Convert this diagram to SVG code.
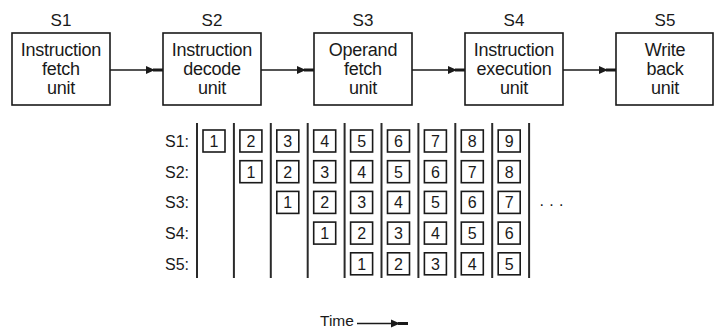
<svg xmlns="http://www.w3.org/2000/svg" width="715" height="331" viewBox="0 0 715 331">
  <style>
    text { font-family: "Liberation Sans", Arial, sans-serif; fill: #1a1a1a; }
    .unit { fill: #fff; stroke: #1a1a1a; stroke-width: 1.6; }
    .lbl { font-size: 18px; letter-spacing: -0.25px; text-anchor: middle; }
    .stage { font-size: 17px; text-anchor: middle; }
    .wire { stroke: #1a1a1a; stroke-width: 1.6; fill: none; marker-end: url(#arrow); }
    .tick { stroke: #2a2a2a; stroke-width: 2; }
    .cell { fill: #fff; stroke: #1a1a1a; stroke-width: 1.6; }
    .num { font-size: 16px; text-anchor: middle; }
    .row { font-size: 16px; }
  </style>
  <defs>
    <!-- filled head followed by a short heavy bar up to the target -->
    <marker id="arrow" viewBox="0 0 17 10" refX="17" refY="5" markerWidth="17" markerHeight="10" markerUnits="userSpaceOnUse" orient="auto">
      <path d="M0,1 L9,5 L0,9 Z M7,3.5 H17 V6.5 H7 Z" fill="#1a1a1a"/>
    </marker>
    <rect id="c" width="22" height="22" class="cell"/>
  </defs>
  <rect width="715" height="331" fill="#fff"/>

  <!-- pipeline stages -->
  <g id="s1">
    <text class="stage" x="61" y="26">S1</text>
    <rect class="unit" x="12" y="33" width="98" height="72"/>
    <text class="lbl" x="61" y="56">Instruction</text>
    <text class="lbl" x="61" y="75">fetch</text>
    <text class="lbl" x="61" y="94">unit</text>
  </g>
  <g id="s2">
    <text class="stage" x="212" y="26">S2</text>
    <rect class="unit" x="163" y="33" width="98" height="72"/>
    <text class="lbl" x="212" y="56">Instruction</text>
    <text class="lbl" x="212" y="75">decode</text>
    <text class="lbl" x="212" y="94">unit</text>
  </g>
  <g id="s3">
    <text class="stage" x="363" y="26">S3</text>
    <rect class="unit" x="314" y="33" width="98" height="72"/>
    <text class="lbl" x="363" y="56">Operand</text>
    <text class="lbl" x="363" y="75">fetch</text>
    <text class="lbl" x="363" y="94">unit</text>
  </g>
  <g id="s4">
    <text class="stage" x="514" y="26">S4</text>
    <rect class="unit" x="465" y="33" width="98" height="72"/>
    <text class="lbl" x="514" y="56">Instruction</text>
    <text class="lbl" x="514" y="75">execution</text>
    <text class="lbl" x="514" y="94">unit</text>
  </g>
  <g id="s5">
    <text class="stage" x="665" y="26">S5</text>
    <rect class="unit" x="616" y="33" width="97" height="72"/>
    <text class="lbl" x="665" y="56">Write</text>
    <text class="lbl" x="665" y="75">back</text>
    <text class="lbl" x="665" y="94">unit</text>
  </g>

  <g id="connectors">
    <line class="wire" x1="110" y1="70" x2="163" y2="70"/>
    <line class="wire" x1="261" y1="70" x2="314" y2="70"/>
    <line class="wire" x1="412" y1="70" x2="465" y2="70"/>
    <line class="wire" x1="563" y1="70" x2="616" y2="70"/>
  </g>

  <!-- space-time table -->
  <g id="timing">
    <text class="row" x="165" y="146.8">S1:</text>
    <text class="row" x="165" y="177.5">S2:</text>
    <text class="row" x="165" y="208.2">S3:</text>
    <text class="row" x="165" y="238.9">S4:</text>
    <text class="row" x="165" y="269.6">S5:</text>

    <g>
      <line class="tick" x1="197" y1="123" x2="197" y2="278"/>
      <line class="tick" x1="233.9" y1="123" x2="233.9" y2="278"/>
      <line class="tick" x1="270.8" y1="123" x2="270.8" y2="278"/>
      <line class="tick" x1="307.7" y1="123" x2="307.7" y2="278"/>
      <line class="tick" x1="344.6" y1="123" x2="344.6" y2="278"/>
      <line class="tick" x1="381.5" y1="123" x2="381.5" y2="278"/>
      <line class="tick" x1="418.4" y1="123" x2="418.4" y2="278"/>
      <line class="tick" x1="455.3" y1="123" x2="455.3" y2="278"/>
      <line class="tick" x1="492.2" y1="123" x2="492.2" y2="278"/>
      <line class="tick" x1="529.1" y1="123" x2="529.1" y2="278"/>
    </g>

    <!-- column 1 -->
    <g transform="translate(203,130)">
      <use href="#c"/><text class="num" x="11" y="16.8">1</text>
    </g>
    <!-- column 2 -->
    <g transform="translate(239.9,130)">
      <use href="#c"/><text class="num" x="11" y="16.8">2</text>
      <use href="#c" y="30.7"/><text class="num" x="11" y="47.5">1</text>
    </g>
    <!-- column 3 -->
    <g transform="translate(276.8,130)">
      <use href="#c"/><text class="num" x="11" y="16.8">3</text>
      <use href="#c" y="30.7"/><text class="num" x="11" y="47.5">2</text>
      <use href="#c" y="61.4"/><text class="num" x="11" y="78.2">1</text>
    </g>
    <!-- column 4 -->
    <g transform="translate(313.7,130)">
      <use href="#c"/><text class="num" x="11" y="16.8">4</text>
      <use href="#c" y="30.7"/><text class="num" x="11" y="47.5">3</text>
      <use href="#c" y="61.4"/><text class="num" x="11" y="78.2">2</text>
      <use href="#c" y="92.1"/><text class="num" x="11" y="108.9">1</text>
    </g>
    <!-- column 5 -->
    <g transform="translate(350.6,130)">
      <use href="#c"/><text class="num" x="11" y="16.8">5</text>
      <use href="#c" y="30.7"/><text class="num" x="11" y="47.5">4</text>
      <use href="#c" y="61.4"/><text class="num" x="11" y="78.2">3</text>
      <use href="#c" y="92.1"/><text class="num" x="11" y="108.9">2</text>
      <use href="#c" y="122.8"/><text class="num" x="11" y="139.6">1</text>
    </g>
    <!-- column 6 -->
    <g transform="translate(387.5,130)">
      <use href="#c"/><text class="num" x="11" y="16.8">6</text>
      <use href="#c" y="30.7"/><text class="num" x="11" y="47.5">5</text>
      <use href="#c" y="61.4"/><text class="num" x="11" y="78.2">4</text>
      <use href="#c" y="92.1"/><text class="num" x="11" y="108.9">3</text>
      <use href="#c" y="122.8"/><text class="num" x="11" y="139.6">2</text>
    </g>
    <!-- column 7 -->
    <g transform="translate(424.4,130)">
      <use href="#c"/><text class="num" x="11" y="16.8">7</text>
      <use href="#c" y="30.7"/><text class="num" x="11" y="47.5">6</text>
      <use href="#c" y="61.4"/><text class="num" x="11" y="78.2">5</text>
      <use href="#c" y="92.1"/><text class="num" x="11" y="108.9">4</text>
      <use href="#c" y="122.8"/><text class="num" x="11" y="139.6">3</text>
    </g>
    <!-- column 8 -->
    <g transform="translate(461.3,130)">
      <use href="#c"/><text class="num" x="11" y="16.8">8</text>
      <use href="#c" y="30.7"/><text class="num" x="11" y="47.5">7</text>
      <use href="#c" y="61.4"/><text class="num" x="11" y="78.2">6</text>
      <use href="#c" y="92.1"/><text class="num" x="11" y="108.9">5</text>
      <use href="#c" y="122.8"/><text class="num" x="11" y="139.6">4</text>
    </g>
    <!-- column 9 -->
    <g transform="translate(498.2,130)">
      <use href="#c"/><text class="num" x="11" y="16.8">9</text>
      <use href="#c" y="30.7"/><text class="num" x="11" y="47.5">8</text>
      <use href="#c" y="61.4"/><text class="num" x="11" y="78.2">7</text>
      <use href="#c" y="92.1"/><text class="num" x="11" y="108.9">6</text>
      <use href="#c" y="122.8"/><text class="num" x="11" y="139.6">5</text>
    </g>

    <text class="row" x="539.5" y="206" letter-spacing="5.3">...</text>
  </g>

  <!-- time axis -->
  <g id="time">
    <text x="320" y="326" font-size="15.5">Time</text>
    <line class="wire" x1="357" y1="323.5" x2="408" y2="323.5"/>
  </g>
</svg>
